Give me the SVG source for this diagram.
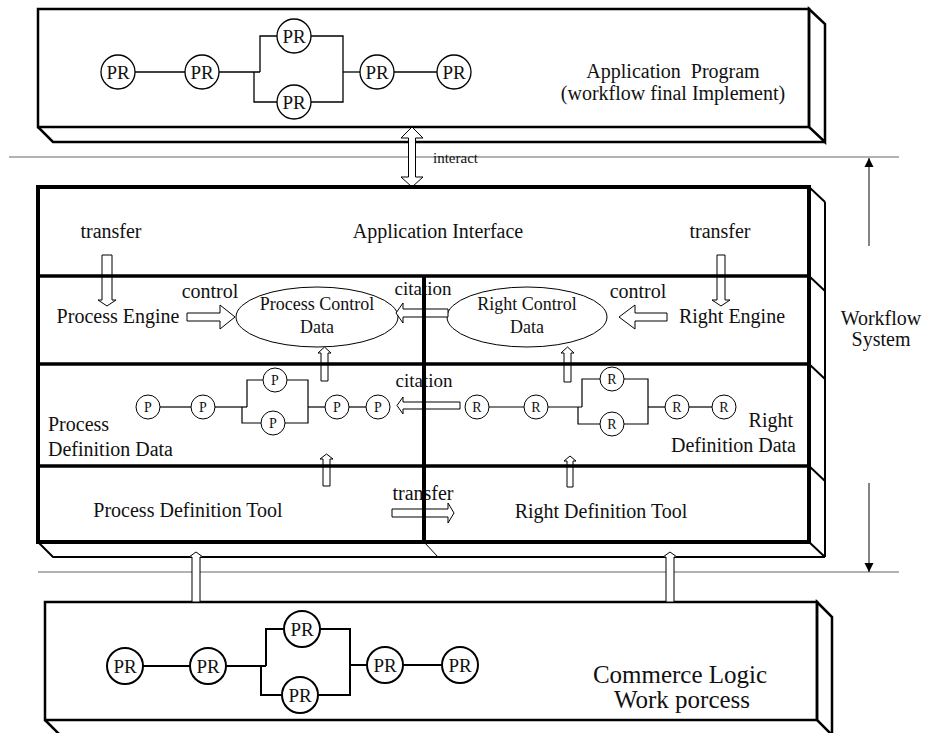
<svg xmlns="http://www.w3.org/2000/svg" width="927" height="733" viewBox="0 0 927 733">
<style>
text{font-family:"Liberation Serif","Times New Roman",serif;fill:#111}
.t20{font-size:20px}.t18{font-size:18px}.t19{font-size:19px}.t15{font-size:15px}.t25{font-size:25px}
.c{text-anchor:middle}.e{text-anchor:end}
.pr{font-size:19px;text-anchor:middle}.pq{font-size:14px;text-anchor:middle}
.ln{fill:none;stroke:#000}
.blk{fill:#fff;stroke:#000;stroke-width:1}
.thin{stroke:#666;stroke-width:1.2;fill:none}
.node{fill:#fff;stroke:#000}
</style>
<defs>
<marker id="ah" viewBox="0 0 10 10" refX="10" refY="5" markerWidth="9" markerHeight="11" markerUnits="userSpaceOnUse" orient="auto"><path d="M0,0 L10,5 L0,10 z" fill="#000"/></marker>
</defs>
<rect width="927" height="733" fill="#fff"/>

<!-- thin separators -->
<g id="separators">
<line class="thin" x1="9" y1="157" x2="899" y2="157"/>
<line class="thin" x1="38" y1="572" x2="899" y2="572"/>
</g>

<!-- Top box: application program -->
<g id="app-program">
<rect x="38" y="9" width="771" height="118" class="ln" stroke-width="2.5"/>
<polygon points="809,9 825,24 825,142 809,127" class="ln" stroke-width="2.5"/>
<polyline points="38,127 53,142 825,142" class="ln" stroke-width="2.5"/>
<g stroke="#000" stroke-width="1.3" fill="none">
<line x1="135" y1="72" x2="185" y2="72"/>
<line x1="219" y1="72" x2="260" y2="72"/>
<path d="M260,72 V36 H277"/>
<path d="M254,72 V102 H277"/>
<path d="M311,36 H343 V102 H311"/>
<line x1="343" y1="72" x2="360" y2="72"/>
<line x1="394" y1="72" x2="437" y2="72"/>
</g>
<g stroke-width="1.3">
<circle cx="118" cy="72" r="17" class="node"/><circle cx="202" cy="72" r="17" class="node"/>
<circle cx="294" cy="36" r="17" class="node"/><circle cx="294" cy="102" r="17" class="node"/>
<circle cx="377" cy="72" r="17" class="node"/><circle cx="454" cy="72" r="17" class="node"/>
</g>
<text class="pr" x="118" y="79">PR</text><text class="pr" x="202" y="79">PR</text>
<text class="pr" x="294" y="43">PR</text><text class="pr" x="294" y="109">PR</text>
<text class="pr" x="377" y="79">PR</text><text class="pr" x="454" y="79">PR</text>
<text class="t20 c" x="673" y="78" style="white-space:pre">Application  Program</text>
<text class="t20 c" x="673" y="100">(workflow final Implement)</text>
</g>

<!-- Workflow system (middle box) -->
<g id="workflow-system">
<g id="application-interface">
<text class="t20 c" x="111" y="238">transfer</text>
<text class="t20 c" x="438" y="238">Application Interface</text>
<text class="t20 c" x="720" y="238">transfer</text>
</g>
<g id="process-engine">
<text class="t20 c" x="118" y="323">Process Engine</text>
<text class="t20 c" x="210" y="298">control</text>
</g>
<g id="process-control-data">
<ellipse cx="317" cy="317" rx="81" ry="30" class="node" stroke-width="1"/>
<text class="t18 c" x="317" y="310">Process Control</text>
<text class="t18 c" x="317" y="333">Data</text>
</g>
<g id="right-control-data">
<ellipse cx="527" cy="317" rx="80" ry="30" class="node" stroke-width="1"/>
<text class="t18 c" x="527" y="310">Right Control</text>
<text class="t18 c" x="527" y="333">Data</text>
</g>
<g id="right-engine">
<text class="t20 c" x="638" y="298">control</text>
<text class="t20 c" x="732" y="323">Right Engine</text>
</g>
<g id="process-definition-data">
<g stroke="#000" stroke-width="1.2" fill="none">
<line x1="160" y1="407" x2="191" y2="407"/>
<line x1="215" y1="407" x2="247" y2="407"/>
<path d="M247,407 V380 H263"/>
<path d="M242,407 V423 H261"/>
<path d="M287,380 H308 V423 H285"/>
<line x1="308" y1="407" x2="325" y2="407"/>
<line x1="349" y1="407" x2="366" y2="407"/>
</g>
<g stroke-width="1">
<circle cx="148" cy="407" r="12" class="node"/><circle cx="203" cy="407" r="12" class="node"/>
<circle cx="275" cy="380" r="12" class="node"/><circle cx="273" cy="423" r="12" class="node"/>
<circle cx="337" cy="407" r="12" class="node"/><circle cx="378" cy="407" r="12" class="node"/>
</g>
<text class="pq" x="148" y="412">P</text><text class="pq" x="203" y="412">P</text>
<text class="pq" x="275" y="385">P</text><text class="pq" x="273" y="428">P</text>
<text class="pq" x="337" y="412">P</text><text class="pq" x="378" y="412">P</text>
<text class="t20" x="48" y="431">Process</text>
<text class="t20" x="48" y="456">Definition Data</text>
</g>
<g id="right-definition-data">
<g stroke="#000" stroke-width="1.2" fill="none">
<line x1="489" y1="407" x2="524" y2="407"/>
<line x1="548" y1="407" x2="582" y2="407"/>
<path d="M582,407 V379 H600"/>
<path d="M578,407 V424 H600"/>
<path d="M624,379 H648 V424 H624"/>
<line x1="648" y1="407" x2="665" y2="407"/>
<line x1="689" y1="407" x2="712" y2="407"/>
</g>
<g stroke-width="1">
<circle cx="477" cy="407" r="12" class="node"/><circle cx="536" cy="407" r="12" class="node"/>
<circle cx="612" cy="379" r="12" class="node"/><circle cx="612" cy="424" r="12" class="node"/>
<circle cx="677" cy="407" r="12" class="node"/><circle cx="724" cy="407" r="12" class="node"/>
</g>
<text class="pq" x="477" y="412">R</text><text class="pq" x="536" y="412">R</text>
<text class="pq" x="612" y="384">R</text><text class="pq" x="612" y="429">R</text>
<text class="pq" x="677" y="412">R</text><text class="pq" x="724" y="412">R</text>
<text class="t20 e" x="793" y="427">Right</text>
<text class="t20 e" x="796" y="452">Definition Data</text>
</g>
<g id="process-definition-tool">
<text class="t20 c" x="188" y="517">Process Definition Tool</text>
</g>
<g id="right-definition-tool">
<text class="t20 c" x="601" y="518">Right Definition Tool</text>
</g>
</g>

<!-- Bottom box -->
<g id="commerce-logic">
<rect x="45" y="602" width="772" height="118" class="ln" stroke-width="2.5"/>
<polygon points="817,602 832,617 832,735 817,720" class="ln" stroke-width="2.5"/>
<polyline points="45,720 60,735 832,735" class="ln" stroke-width="2.5"/>
<g stroke="#000" stroke-width="2" fill="none">
<line x1="143" y1="666" x2="190" y2="666"/>
<line x1="226" y1="666" x2="266" y2="666"/>
<path d="M266,666 V629 H284"/>
<path d="M261,666 V695 H282"/>
<path d="M320,629 H350 V695 H318"/>
<line x1="350" y1="665" x2="367" y2="665"/>
<line x1="403" y1="665" x2="442" y2="665"/>
</g>
<g stroke-width="2">
<circle cx="125" cy="666" r="18" class="node"/><circle cx="208" cy="666" r="18" class="node"/>
<circle cx="302" cy="629" r="18" class="node"/><circle cx="300" cy="695" r="18" class="node"/>
<circle cx="385" cy="665" r="18" class="node"/><circle cx="460" cy="665" r="18" class="node"/>
</g>
<text class="pr" x="125" y="673">PR</text><text class="pr" x="208" y="673">PR</text>
<text class="pr" x="302" y="636">PR</text><text class="pr" x="300" y="702">PR</text>
<text class="pr" x="385" y="672">PR</text><text class="pr" x="460" y="672">PR</text>
<text class="t25 c" x="680" y="683">Commerce Logic</text>
<text class="t25 c" x="682" y="708">Work porcess</text>
</g>

<!-- Workflow System label -->
<g id="workflow-label">
<text class="t20 c" x="881" y="325">Workflow</text>
<text class="t20 c" x="881" y="346">System</text>
</g>

<!-- connectors -->
<g id="connectors">
<line x1="869" y1="246" x2="869" y2="158" stroke="#333" stroke-width="1.2" marker-end="url(#ah)"/>
<line x1="869" y1="483" x2="869" y2="572" stroke="#333" stroke-width="1.2" marker-end="url(#ah)"/>
<polygon class="blk" points="412,127 423,138 415.5,138 415.5,177 423,177 412,187 401,177 408.5,177 408.5,138 401,138"/>
<text class="t15" x="433" y="163">interact</text>
<polygon class="blk" points="102,255 112,255 112,300 116,300 107,306 98,300 102,300"/>
<polygon class="blk" points="717,255 725,255 725,300 730,300 721,306 712,300 717,300"/>
<polygon class="blk" points="187,313 220,313 220,305 235,317 220,329 220,321 187,321"/>
<polygon class="blk" points="667,313 635,313 635,305 619,317 635,329 635,321 667,321"/>
<polygon class="blk" points="448,309 403,309 403,303 396,313 403,323 403,317 448,317"/>
<text class="t19 c" x="423" y="295">citation</text>
<polygon class="blk" points="460,402 403,402 403,397 397,405.5 403,414 403,409 460,409"/>
<text class="t19 c" x="424" y="387">citation</text>
<polygon class="blk" points="392,509 448,509 448,503 454,513 448,523 448,517 392,517"/>
<text class="t20 c" x="423" y="500">transfer</text>
<polygon class="blk" points="321,381 321,353 318,353 324.5,347 331,353 328,353 328,381"/>
<polygon class="blk" points="564,382 564,353 561,353 567.5,347 574,353 571,353 571,382"/>
<polygon class="blk" points="323,486 323,459 320,459 326.5,454 333,459 330,459 330,486"/>
<polygon class="blk" points="567,487 567,461 564,461 570,456 576,461 573,461 573,487"/>
</g>

<!-- middle box frame (drawn over arrows) -->
<g id="workflow-frame">
<rect x="38" y="187" width="771" height="355" class="ln" stroke-width="4"/>
<g stroke="#000" stroke-width="3.5">
<line x1="38" y1="276" x2="809" y2="276"/>
<line x1="38" y1="364" x2="809" y2="364"/>
<line x1="38" y1="466" x2="809" y2="466"/>
<line x1="424" y1="276" x2="424" y2="542" stroke-width="4"/>
</g>
<g stroke="#000" stroke-width="2" fill="none">
<line x1="809" y1="187" x2="825" y2="202"/>
<line x1="809" y1="276" x2="825" y2="291"/>
<line x1="809" y1="364" x2="825" y2="379"/>
<line x1="809" y1="466" x2="825" y2="481"/>
<line x1="809" y1="542" x2="825" y2="557"/>
<line x1="825" y1="202" x2="825" y2="557"/>
<polyline points="38,542 53,557 825,557"/>
</g>
<line x1="424" y1="542" x2="438" y2="557" stroke="#000" stroke-width="1"/>
</g>

<!-- arrows from commerce logic into workflow system -->
<g id="connectors-bottom">
<polygon class="blk" points="192,602 192,557 189,557 196,552 203,557 200,557 200,602"/>
<polygon class="blk" points="666,602 666,557 663,557 670,552 677,557 674,557 674,602"/>
</g>
</svg>
